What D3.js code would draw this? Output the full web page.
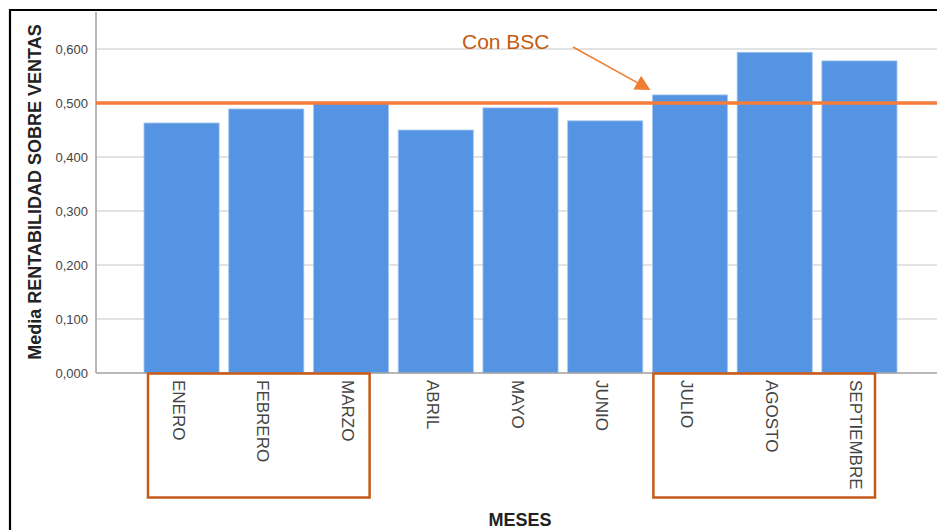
<!DOCTYPE html>
<html>
<head>
<meta charset="utf-8">
<script src="https://cdn.jsdelivr.net/npm/d3@7"></script>
<style>
  body { margin: 0; background: #fff; }
  svg { display: block; font-family: "Liberation Sans", Arial, sans-serif; }
</style>
</head>
<body>
<svg id="chart" width="937" height="530"></svg>
<script>
// Mean return on sales per month
const months = ["ENERO", "FEBRERO", "MARZO", "ABRIL", "MAYO", "JUNIO", "JULIO", "AGOSTO", "SEPTIEMBRE"];
const rentabilidad = [0.463, 0.489, 0.499, 0.450, 0.491, 0.467, 0.515, 0.594, 0.578];
const yTicks = [0, 0.1, 0.2, 0.3, 0.4, 0.5, 0.6];
const referencia = 0.5;
const groupBefore = ["ENERO", "FEBRERO", "MARZO"];
const groupAfter = ["JULIO", "AGOSTO", "SEPTIEMBRE"];

const svg = d3.select("#chart");
const W = 937, H = 530;
const plot = { left: 96, right: 945, top: 12, bottom: 373 };

const x = d3.scaleBand()
  .domain(months)
  .range([139.2, 901.8])
  .paddingInner(0.113)
  .paddingOuter(0.0565);

const y = d3.scaleLinear()
  .domain([0, 0.6])
  .range([plot.bottom, 49]);

const fmt = v => d3.format(".3f")(v).replace(".", ",");

// outer frame (left and top edges)
svg.append("path")
  .attr("d", `M10,${H} L10,10 L${W},10`)
  .attr("fill", "none")
  .attr("stroke", "#000")
  .attr("stroke-width", 2.2);

// gridlines
svg.append("g")
  .selectAll("line")
  .data(yTicks.filter(t => t > 0))
  .join("line")
  .attr("x1", plot.left)
  .attr("x2", W)
  .attr("y1", d => y(d))
  .attr("y2", d => y(d))
  .attr("stroke", "#d9d9d9")
  .attr("stroke-width", 1.5);

// bars
svg.append("g")
  .selectAll("rect")
  .data(months.map((m, i) => ({ m, v: rentabilidad[i] })))
  .join("rect")
  .attr("x", d => x(d.m))
  .attr("y", d => y(d.v))
  .attr("width", x.bandwidth())
  .attr("height", d => y(0) - y(d.v))
  .attr("fill", "#5594e2")
  .attr("stroke", "#a9c8f0")
  .attr("stroke-width", 0.8);

// y axis
const yAxis = d3.axisLeft(y)
  .tickValues(yTicks)
  .tickSize(0)
  .tickPadding(8)
  .tickFormat(fmt);
const gy = svg.append("g")
  .attr("transform", `translate(${plot.left},0)`)
  .call(yAxis);
gy.select(".domain").attr("stroke", "#a0a0a0").attr("stroke-width", 1.5)
  .attr("d", `M0,${plot.top}V${plot.bottom}`);
gy.selectAll("text")
  .attr("font-size", 13)
  .attr("fill", "#444")
  .attr("font-family", "Liberation Sans, Arial, sans-serif");

// x axis
const xAxis = d3.axisBottom(x).tickSize(0).tickPadding(0);
const gx = svg.append("g")
  .attr("transform", `translate(0,${plot.bottom})`)
  .call(xAxis);
gx.select(".domain").attr("stroke", "#a0a0a0").attr("stroke-width", 1.5)
  .attr("d", `M${plot.left},0H${W}`);
gx.selectAll(".tick text")
  .attr("transform", "translate(-3,7) rotate(90)")
  .attr("text-anchor", "start")
  .attr("dy", "0.35em")
  .attr("y", 0)
  .attr("x", 0)
  .attr("font-size", 17)
  .attr("fill", "#444")
  .attr("font-family", "Liberation Sans, Arial, sans-serif");

// reference line at 0,500
svg.append("line")
  .attr("x1", plot.left)
  .attr("x2", W)
  .attr("y1", y(referencia))
  .attr("y2", y(referencia))
  .attr("stroke", "#f47d3b")
  .attr("stroke-width", 3.5);

// group boxes around the month labels
function groupBox(group, padL, padR) {
  const x0 = x(group[0]) + padL;
  const x1 = x(group[group.length - 1]) + x.bandwidth() - padR;
  svg.append("rect")
    .attr("x", x0)
    .attr("y", plot.bottom + 0.5)
    .attr("width", x1 - x0)
    .attr("height", 124)
    .attr("fill", "none")
    .attr("stroke", "#c55a1c")
    .attr("stroke-width", 2.5);
}
groupBox(groupBefore, 4, 19);
groupBox(groupAfter, 1, 22);

// annotation "Con BSC" with arrow to JULIO
const julio = months.indexOf("JULIO");
const tipX = x("JULIO") - 2;
const tipY = y(rentabilidad[julio]) - 5;
const startX = 573, startY = 47;
svg.append("text")
  .attr("x", 462)
  .attr("y", 49)
  .attr("font-size", 21)
  .attr("fill", "#c55a11")
  .text("Con BSC");

const ang = Math.atan2(tipY - startY, tipX - startX);
const headLen = 15, headW = 8;
const bx = tipX - headLen * Math.cos(ang), by = tipY - headLen * Math.sin(ang);
svg.append("line")
  .attr("x1", startX).attr("y1", startY)
  .attr("x2", bx).attr("y2", by)
  .attr("stroke", "#ed7d31")
  .attr("stroke-width", 1.5);
svg.append("path")
  .attr("d", `M${tipX},${tipY} L${bx + headW * Math.sin(ang)},${by - headW * Math.cos(ang)} L${bx - headW * Math.sin(ang)},${by + headW * Math.cos(ang)} Z`)
  .attr("fill", "#ed7d31");

// axis titles
svg.append("text")
  .attr("transform", `translate(41,192) rotate(-90)`)
  .attr("text-anchor", "middle")
  .attr("font-size", 18)
  .attr("font-weight", "bold")
  .attr("fill", "#222")
  .text("Media RENTABILIDAD SOBRE VENTAS");

svg.append("text")
  .attr("x", 520)
  .attr("y", 526)
  .attr("text-anchor", "middle")
  .attr("font-size", 18)
  .attr("font-weight", "bold")
  .attr("fill", "#222")
  .text("MESES");
</script>
</body>
</html>
